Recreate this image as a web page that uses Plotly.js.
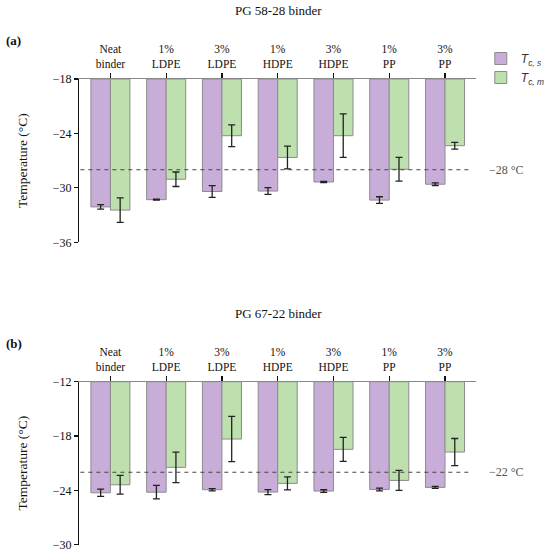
<!DOCTYPE html>
<html>
<head>
<meta charset="utf-8">
<script src="https://cdn.plot.ly/plotly-3.0.1.min.js"></script>
<style>html,body{margin:0;padding:0;background:#fff;}#chart{width:550px;height:556px;}</style>
</head>
<body>
<div id="chart"></div>
<script>
// Category labels (two lines each)
const labelTop = ["Neat", "1%", "3%", "1%", "3%", "1%", "3%"];
const labelBottom = ["binder", "LDPE", "LDPE", "HDPE", "HDPE", "PP", "PP"];

// Panel (a) PG 58-28 binder
const a_Tcs = [-32.1, -31.3, -30.4, -30.35, -29.35, -31.35, -29.6];
const a_Tcs_err = [0.25, 0.05, 0.65, 0.37, 0.06, 0.37, 0.14];
const a_Tcm = [-32.45, -29.05, -24.25, -26.65, -24.25, -27.95, -25.35];
const a_Tcm_err = [1.35, 0.8, 1.2, 1.25, 2.4, 1.3, 0.37];

// Panel (b) PG 67-22 binder
const b_Tcs = [-24.27, -24.2, -23.93, -24.19, -24.08, -23.9, -23.67];
const b_Tcs_err = [0.4, 0.75, 0.12, 0.28, 0.15, 0.15, 0.1];
const b_Tcm = [-23.38, -21.46, -18.33, -23.23, -19.47, -22.9, -19.77];
const b_Tcm_err = [1.03, 1.68, 2.5, 0.72, 1.33, 1.1, 1.5];

const a_ticks = [-18, -24, -30, -36];
const b_ticks = [-12, -18, -24, -30];
const a_base = -18, b_base = -12;
const a_ref = -28, b_ref = -22;

const purple = "#C8ADD9", green = "#BDE0AE", edge = "#8C8C8C";
const serif = "Liberation Serif";
const xs = labelTop.map((_, i) => i);
const tickText = labelTop.map((t, i) => t + "<br>" + labelBottom[i]);

function barTrace(vals, errs, base, color, name, xa, ya, show) {
  return {
    type: "bar", x: xs, y: vals.map(v => v - base), base: base,
    name: name, showlegend: show, legendgroup: name,
    marker: {color: color, line: {color: edge, width: 1}},
    error_y: {type: "data", array: errs, visible: true, color: "#222", thickness: 1.3, width: 3.5},
    xaxis: xa, yaxis: ya, hoverinfo: "skip"
  };
}

const nameS = "<i>T</i><sub><i>c, s</i></sub>";
const nameM = "<i>T</i><sub><i>c, m</i></sub>";

const data = [
  barTrace(a_Tcs, a_Tcs_err, a_base, purple, nameS, "x", "y", true),
  barTrace(a_Tcm, a_Tcm_err, a_base, green, nameM, "x", "y", true),
  barTrace(b_Tcs, b_Tcs_err, b_base, purple, nameS, "x2", "y2", false),
  barTrace(b_Tcm, b_Tcm_err, b_base, green, nameM, "x2", "y2", false)
];

const xdom = [82/550, 492.7/550];
function xax(anchor) {
  return {
    domain: xdom, anchor: anchor, side: "top", range: [-0.56, 6.55],
    tickvals: xs, ticktext: tickText, showline: true, linecolor: "#888", linewidth: 1.2,
    ticks: "outside", ticklen: 5, tickcolor: "#111", tickwidth: 1.2,
    showgrid: false, zeroline: false, fixedrange: true,
    tickfont: {family: serif, size: 11.5, color: "#111"}
  };
}
function yax(anchor, dom, range, tv) {
  return {
    domain: dom, anchor: anchor, range: range, tickvals: tv,
    showline: true, linecolor: "#111", linewidth: 1.3,
    ticks: "outside", ticklen: 4, tickcolor: "#111", tickwidth: 1.2,
    showgrid: false, zeroline: false, fixedrange: true,
    tickfont: {family: serif, size: 12, color: "#111"},
    title: {text: "Temperature (°C)", font: {family: serif, size: 13.5, color: "#111"}, standoff: 22}
  };
}

const annotations = [
  {text: "PG 58-28 binder", xref: "paper", yref: "paper", x: 288/550, y: 1 - 10/556,
   showarrow: false, xanchor: "center", yanchor: "middle", font: {family: serif, size: 13, color: "#111"}},
  {text: "PG 67-22 binder", xref: "paper", yref: "paper", x: 288/550, y: 1 - 313/556,
   showarrow: false, xanchor: "center", yanchor: "middle", font: {family: serif, size: 13, color: "#111"}},
  {text: "<b>(a)</b>", xref: "paper", yref: "paper", x: 4/550, y: 1 - 41/556,
   showarrow: false, xanchor: "left", yanchor: "middle", font: {family: serif, size: 13, color: "#111"}},
  {text: "<b>(b)</b>", xref: "paper", yref: "paper", x: 4/550, y: 1 - 343/556,
   showarrow: false, xanchor: "left", yanchor: "middle", font: {family: serif, size: 13, color: "#111"}},
  {text: "−28 °C", xref: "paper", yref: "y", x: 504/550, y: a_ref,
   showarrow: false, xanchor: "left", yanchor: "middle", font: {family: serif, size: 12, color: "#555"}},
  {text: "−22 °C", xref: "paper", yref: "y2", x: 504/550, y: b_ref,
   showarrow: false, xanchor: "left", yanchor: "middle", font: {family: serif, size: 12, color: "#555"}}
];

const layout = {
  width: 550, height: 556,
  margin: {l: 0, r: 0, t: 0, b: 0},
  paper_bgcolor: "#fff", plot_bgcolor: "#fff",
  barmode: "group", bargap: 0.3, bargroupgap: 0,
  font: {family: serif, color: "#111"},
  xaxis: xax("y"),
  yaxis: yax("x", [1 - 242.3/556, 1 - 79/556], [-36, -18], a_ticks),
  xaxis2: xax("y2"),
  yaxis2: yax("x2", [1 - 544.7/556, 1 - 381.7/556], [-30, -12], b_ticks),
  legend: {
    x: 498/550, y: 1 - 44/556, xanchor: "left", yanchor: "top",
    font: {family: "Liberation Sans", size: 12, color: "#333"},
    bgcolor: "rgba(0,0,0,0)", tracegroupgap: 0, itemwidth: 30
  },
  shapes: [
    {type: "line", xref: "x domain", yref: "y", x0: 0.003, x1: 0.99, y0: a_ref, y1: a_ref,
     line: {color: "#444", width: 1, dash: "4px,4px"}},
    {type: "line", xref: "x2 domain", yref: "y2", x0: 0.003, x1: 0.99, y0: b_ref, y1: b_ref,
     line: {color: "#444", width: 1, dash: "4px,4px"}}
  ],
  annotations: annotations
};

Plotly.newPlot("chart", data, layout, {staticPlot: true, displayModeBar: false});
</script>
</body>
</html>
